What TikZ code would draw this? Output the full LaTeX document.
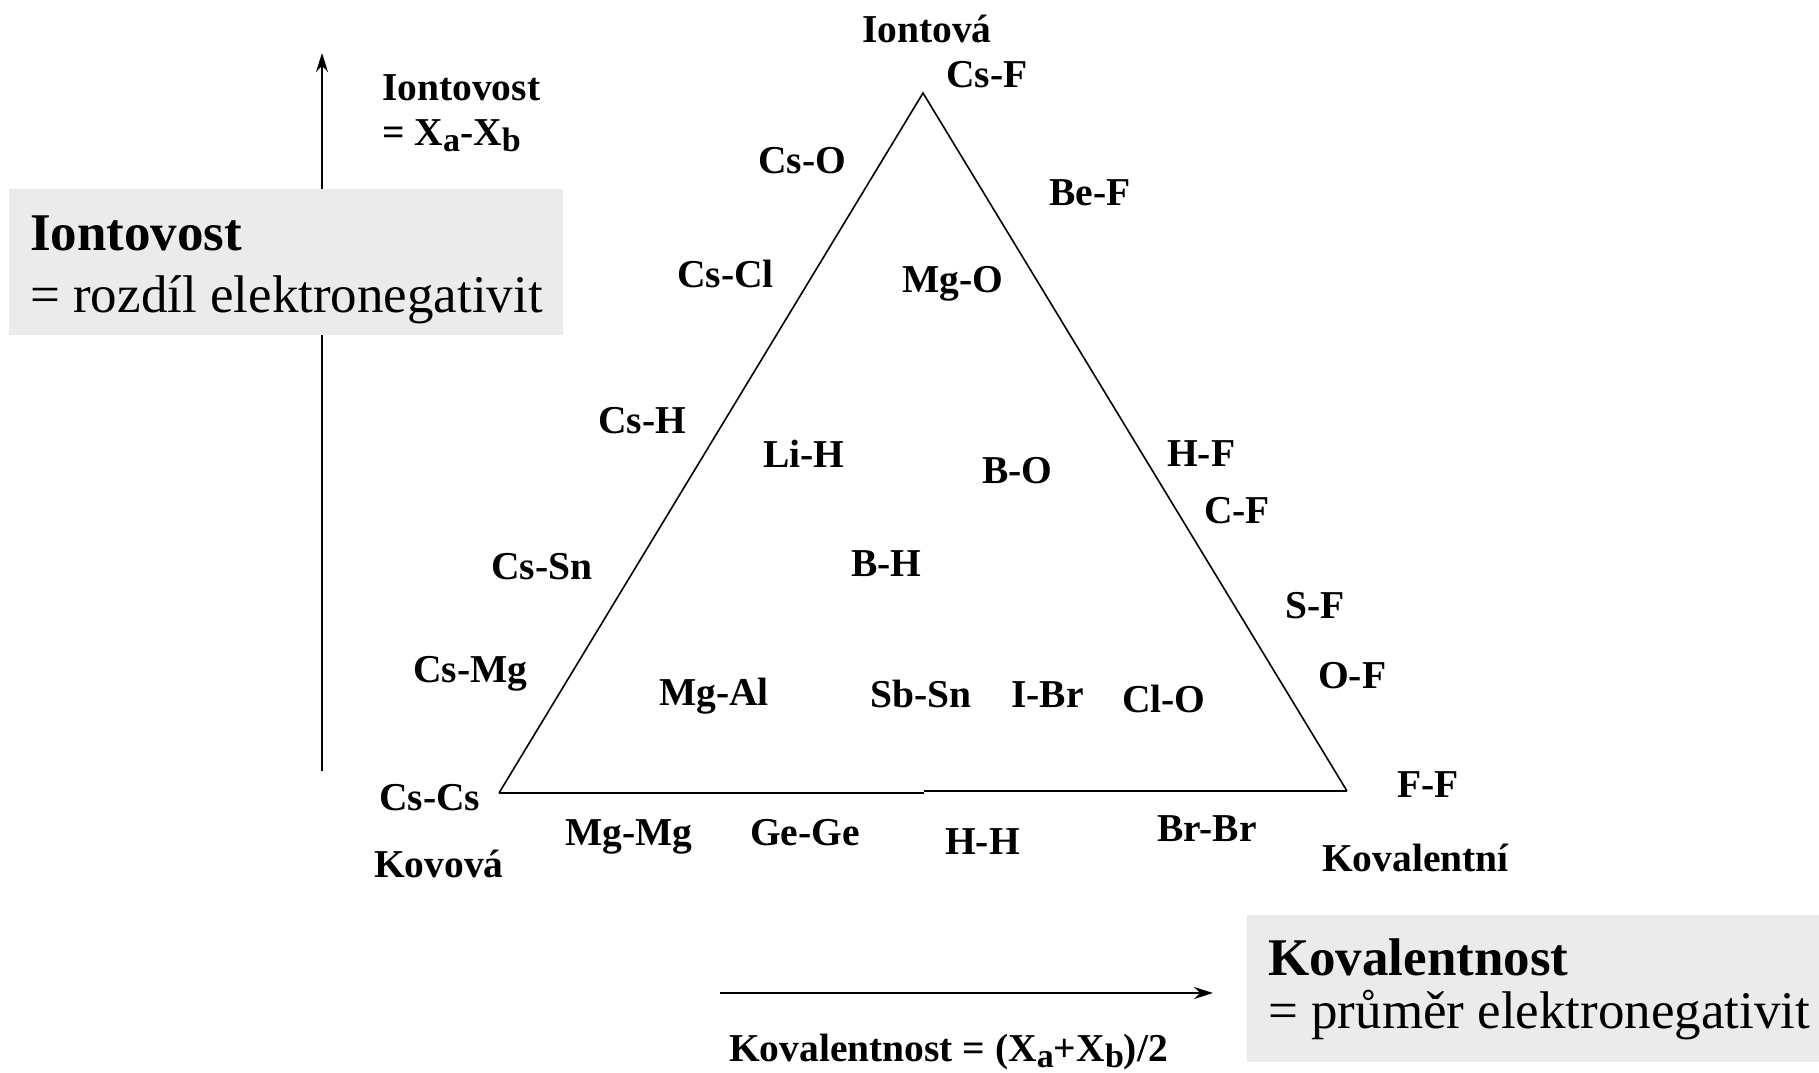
\documentclass[tikz,border=0pt]{standalone}
\usepackage{fontspec}
\setmainfont{Liberation Serif}
\usetikzlibrary{arrows.meta}
\definecolor{boxgray}{RGB}{235,235,235}
\newcommand{\lblfont}{\fontsize{39.5}{47}\selectfont\bfseries}
\newcommand{\bigfont}{\fontsize{53}{62}\selectfont}
\newcommand{\subx}[1]{\raisebox{-0.17em}{\fontsize{34}{34}\selectfont #1}}
\begin{document}
\begin{tikzpicture}[x=1pt,y=-1pt,
  lab/.style={anchor=base west, inner sep=0pt, font=\lblfont},
  bigl/.style={anchor=base west, inner sep=0pt, font=\bigfont},
  axisarrow/.style={line width=2pt, -{Stealth[length=19pt,width=12pt]}},
  side/.style={line width=1.6pt, line join=miter},
  graybox/.style={fill=boxgray, draw=none}]
\useasboundingbox (0,0) rectangle (1819,1072);

% axes
\coordinate (vbot) at (322,771);
\coordinate (vtop) at (322,53);
\draw[axisarrow] (vbot) -- (vtop);
\coordinate (hleft) at (720,993);
\coordinate (hright) at (1213,993);
\draw[axisarrow] (hleft) -- (hright);

% gray boxes
\fill[graybox] (9,189) rectangle (563,335);
\fill[graybox] (1247,915) rectangle (1819,1062);

\node[bigl] (ion) at (30,250) {\bfseries Iontovost};
\node[bigl] (ion2) at (30,312) {= rozdíl elektronegativit};
\node[bigl] (kov) at (1268,975) {\bfseries Kovalentnost};
\node[bigl] (kov2) at (1268,1028) {= průměr elektronegativit};

% triangle
\coordinate (A) at (923,93);
\coordinate (L) at (499,793);
\coordinate (R) at (1347,791);
\coordinate (M1) at (924,793);
\coordinate (M2) at (924,791);
\draw[side] (L) -- (A) -- (R);
\draw[line width=2.2pt] (L) -- (M1);
\draw[line width=2.2pt] (M2) -- (R);

% axis labels
\node[lab] (ionax) at (382,100) {Iontovost};
\node[lab] (ionax2) at (382,145) {= X\subx{a}-X\subx{b}};
\node[lab] (kovax) at (729,1061) {Kovalentnost = (X\subx{a}+X\subx{b})/2};

% corner labels
\node[lab] (iontova) at (862,42) {Iontová};
\node[lab] (kovova) at (374,877) {Kovová};
\node[lab] (kovalentni) at (1322,871) {Kovalentní};

% bonds
\node[lab] (csf) at (946,87) {Cs-F};
\node[lab] (cso) at (758,173) {Cs-O};
\node[lab] (bef) at (1049,205) {Be-F};
\node[lab] (cscl) at (677,287) {Cs-Cl};
\node[lab] (mgo) at (902,292) {Mg-O};
\node[lab] (csh) at (598,433) {Cs-H};
\node[lab] (lih) at (763,467) {Li-H};
\node[lab] (hf) at (1167,466) {H-F};
\node[lab] (bo) at (982,483) {B-O};
\node[lab] (cf) at (1204,523) {C-F};
\node[lab] (cssn) at (491,579) {Cs-Sn};
\node[lab] (bh) at (851,576) {B-H};
\node[lab] (sf) at (1285,618) {S-F};
\node[lab] (csmg) at (413,682) {Cs-Mg};
\node[lab] (of) at (1318,688) {O-F};
\node[lab] (mgal) at (659,705) {Mg-Al};
\node[lab] (sbsn) at (870,707) {Sb-Sn};
\node[lab] (ibr) at (1011,707) {I-Br};
\node[lab] (clo) at (1122,712) {Cl-O};
\node[lab] (cscs) at (379,810) {Cs-Cs};
\node[lab] (ff) at (1397,797) {F-F};
\node[lab] (mgmg) at (565,845) {Mg-Mg};
\node[lab] (gege) at (750,845) {Ge-Ge};
\node[lab] (hh) at (945,854) {H-H};
\node[lab] (brbr) at (1157,841) {Br-Br};
\end{tikzpicture}
\end{document}
